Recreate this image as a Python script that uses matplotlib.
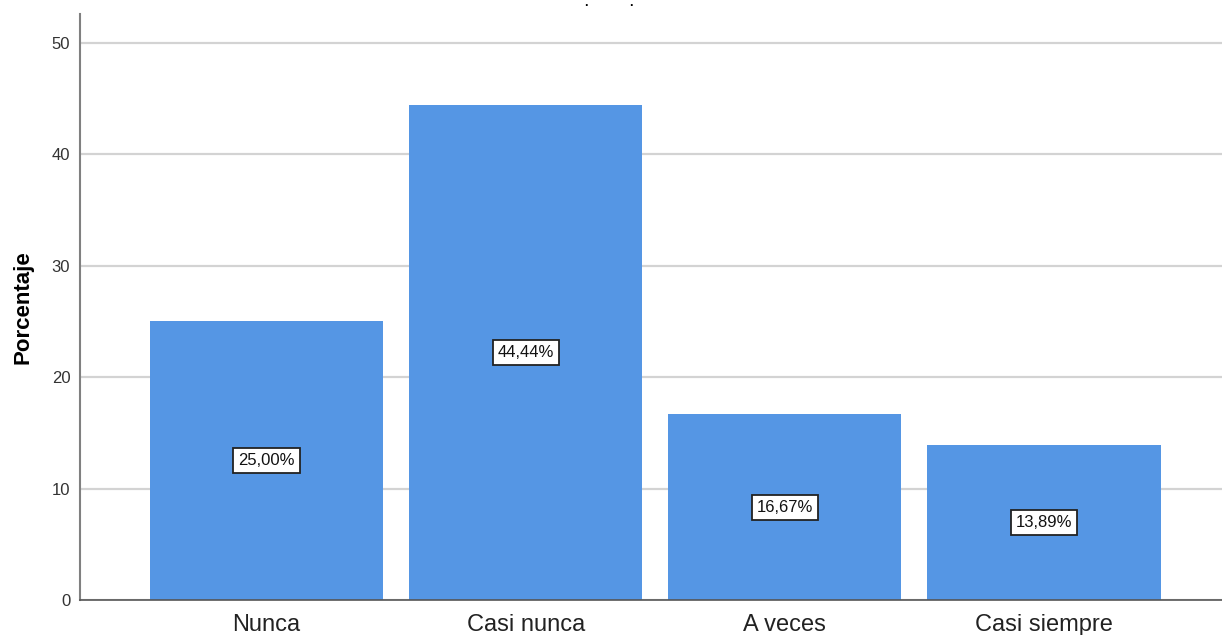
import matplotlib
matplotlib.use("Agg")
import matplotlib.pyplot as plt

plt.rcParams['font.family'] = ['Liberation Sans', 'DejaVu Sans']

categories = ['Nunca', 'Casi nunca', 'A veces', 'Casi siempre']
percent = [25.00, 44.44, 16.67, 13.89]
yticks = [0, 10, 20, 30, 40, 50]

fig = plt.figure(figsize=(12.22, 6.35), dpi=100)
# axes: x 80..1222 px, y 14..600 px
ax = fig.add_axes([80 / 1222, 35 / 635, 1142 / 1222, 586 / 635])

x = range(len(categories))
ax.bar(x, percent, width=0.9, color='#5596e4', zorder=2)

for xi, v in zip(x, percent):
    ax.text(xi, v / 2, f"{v:.2f}%".replace('.', ','), ha='center', va='center',
            fontsize=12, color='#111111', zorder=3,
            bbox=dict(boxstyle='square,pad=0.3', fc='white', ec='#222222', lw=1.3))

ax.set_xlim(-0.72, 3.687)
ax.set_ylim(0, 52.6)
ax.set_yticks(yticks)
ax.yaxis.grid(True, color='#d3d3d3', lw=1.6, zorder=0)
ax.set_xticks(list(x))
ax.set_xticklabels(categories, fontsize=17, color='#222222')
ax.tick_params(axis='x', length=0, pad=10)
ax.tick_params(axis='y', labelsize=12, labelcolor='#333333', length=0, pad=7)
ax.set_ylabel('Porcentaje', fontsize=16, fontweight='bold')
ax.yaxis.set_label_coords(-0.0403, 0.5)

for s in ['top', 'right']:
    ax.spines[s].set_visible(False)
ax.spines['left'].set_color('#808080')
ax.spines['left'].set_linewidth(1.5)
ax.spines['bottom'].set_color('#555555')
ax.spines['bottom'].set_linewidth(1.2)

# remnants of the clipped title at the very top
for px in (586, 631):
    fig.text(px / 1222, 1 - 6 / 635, '\u00b7', ha='center', va='center',
             fontsize=9, fontweight='bold')

fig.savefig('out.png', dpi=100)
